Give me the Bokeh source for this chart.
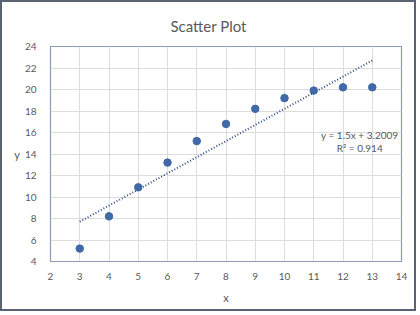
from bokeh.plotting import figure
from bokeh.models import ColumnDataSource, Range1d, FixedTicker, Label, Title
from bokeh.embed import file_html
from bokeh.resources import INLINE

x_vals = [3, 4, 5, 6, 7, 8, 9, 10, 11, 12, 13]
y_vals = [5.2, 8.2, 10.9, 13.2, 15.2, 16.8, 18.2, 19.2, 19.9, 20.2, 20.2]
slope = 1.5
intercept = 3.2009
eq_lines = ["y = 1.5x + 3.2009", "R² = 0.914"]
x_ticks = list(range(2, 15))
y_ticks = list(range(4, 25, 2))

FONT = "Lato"
GRAY = "#595959"
BLUE = "#4169a8"

p = figure(width=416, height=311, output_backend="svg", toolbar_location=None,
           x_range=Range1d(2, 14), y_range=Range1d(4, 24),
           min_border_left=48, min_border_right=17, min_border_top=43, min_border_bottom=52)
p.styles = {"border": "2px solid #5a6470"}
p.title = None
t = Title(text="Scatter Plot", align="left", offset=120, text_font=FONT, text_font_size="15px",
          text_color=GRAY, text_font_style="normal", standoff=24)
p.add_layout(t, "above")

p.outline_line_color = "#8a9bb3"
p.outline_line_width = 1.2

for ax in (p.xaxis[0], p.yaxis[0]):
    ax.axis_line_color = None
    ax.major_tick_line_color = None
    ax.minor_tick_line_color = None
    ax.major_label_text_font = FONT
    ax.major_label_text_font_size = "10px"
    ax.major_label_text_color = GRAY
    ax.axis_label_text_font = FONT
    ax.axis_label_text_font_size = "11px"
    ax.axis_label_text_color = GRAY
    ax.axis_label_text_font_style = "normal"

p.xaxis.ticker = FixedTicker(ticks=x_ticks)
p.yaxis.ticker = FixedTicker(ticks=y_ticks)
p.xaxis.axis_label = "x"
p.yaxis.axis_label = "y"
p.yaxis.axis_label_orientation = "horizontal"
p.xaxis.major_label_standoff = 5
p.yaxis.major_label_standoff = 8
p.xaxis.axis_label_standoff = 8
p.yaxis.axis_label_standoff = 2

p.xgrid.ticker = FixedTicker(ticks=x_ticks)
p.ygrid.ticker = FixedTicker(ticks=y_ticks)
p.grid.grid_line_color = "#dcdcdc"
p.grid.grid_line_width = 1

src = ColumnDataSource(dict(x=x_vals, y=y_vals))
tx = [min(x_vals), max(x_vals)]
ty = [slope * v + intercept for v in tx]
p.line(tx, ty, line_color="#2f4f86", line_width=2, line_dash="1 2")
p.scatter("x", "y", source=src, size=7.5, fill_color=BLUE, line_color=BLUE)

p.add_layout(Label(x=12.57, y=15.75, text=eq_lines[0], text_align="center", text_baseline="middle",
                   text_font=FONT, text_font_size="10px", text_color=GRAY))
p.add_layout(Label(x=12.57, y=14.55, text=eq_lines[1], text_align="center", text_baseline="middle",
                   text_font=FONT, text_font_size="10px", text_color=GRAY))

open("out.html", "w").write(file_html(p, INLINE))
